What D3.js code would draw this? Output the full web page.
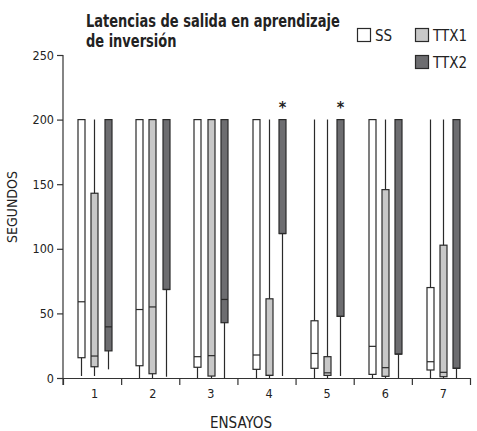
<html>
<head>
  <script src="https://d3js.org/d3.v7.min.js"></script>
  <style>
    body {
      margin: 0;
      background-color: #fff;
    }
    text {
      font-family: "Liberation Sans Narrow", "DejaVu Sans Condensed", sans-serif;
      fill: #222;
    }
    .axis .domain, .axis .tick line {
      stroke: #333;
      stroke-width: 1.2px;
    }
    .axis text {
      font-family: "Liberation Sans Narrow", "DejaVu Sans Condensed", sans-serif;
      font-size: 12.5px;
      fill: #222;
    }
    .title {
      font-size: 17px;
      font-weight: bold;
    }
    .box {
      stroke: #2a2a2a;
      stroke-width: 1.2px;
    }
    .whisker, .median {
      stroke: #2a2a2a;
      stroke-width: 1.2px;
    }
  </style>
</head>
<body>
  <svg width="477" height="431"></svg>

  <script>
    // ensayos and groups
    var categories = ["1", "2", "3", "4", "5", "6", "7"];
    var series = ["SS", "TTX1", "TTX2"];
    var colors = ["#ffffff", "#c8c8c8", "#6d6d70"];

    // box plot values per group (segundos)
    var ssLow    = [1.5, 0, 0, 0, 0, 0, 0];
    var ssQ1     = [15.7, 9.5, 8.3, 6.7, 7.5, 2.8, 6.2];
    var ssMed    = [59, 53, 16.5, 17.8, 19, 24.5, 12.6];
    var ssQ3     = [200, 200, 200, 200, 44.3, 200, 70];
    var ssHigh   = [200, 200, 200, 200, 200, 200, 200];

    var ttx1Low  = [1.5, 0, 0, 0, 0, 0, 0];
    var ttx1Q1   = [8.7, 3.3, 1.5, 2, 2, 1.3, 1];
    var ttx1Med  = [17, 55, 17.3, 2, 4, 8, 4.4];
    var ttx1Q3   = [143, 200, 200, 61.3, 16.5, 145.8, 102.8];
    var ttx1High = [200, 200, 200, 200, 200, 200, 200];

    var ttx2Low  = [6.7, 1, 0, 1.5, 1.5, 0, 0];
    var ttx2Q1   = [21, 68.5, 42.8, 111.8, 47.7, 18.5, 7.5];
    var ttx2Med  = [39.6, 68.5, 60.8, 111.8, 47.7, 18.5, 7.5];
    var ttx2Q3   = [200, 200, 200, 200, 200, 200, 200];
    var ttx2High = [200, 200, 200, 200, 200, 200, 200];

    // significance marks over TTX2
    var ttx2Star = [false, false, false, true, true, false, false];

    var yTicks = [0, 50, 100, 150, 200, 250];
    var titleLines = ["Latencias de salida en aprendizaje", "de inversión"];

    var stats = [
      {low: ssLow, q1: ssQ1, med: ssMed, q3: ssQ3, high: ssHigh},
      {low: ttx1Low, q1: ttx1Q1, med: ttx1Med, q3: ttx1Q3, high: ttx1High},
      {low: ttx2Low, q1: ttx2Q1, med: ttx2Med, q3: ttx2Q3, high: ttx2High}
    ];

    var svg = d3.select("svg"),
        plotLeft = 63, plotRight = 470, plotTop = 55, plotBottom = 378;

    var x = d3.scaleBand()
        .domain(categories)
        .range([plotLeft, plotRight]);

    var xs = d3.scalePoint()
        .domain(series)
        .range([-11, 15.5]);

    var y = d3.scaleLinear()
        .domain([0, 250])
        .range([plotBottom, plotTop]);

    var boxW = 7;

    // y axis
    svg.append("g")
        .attr("class", "axis axis--y")
        .attr("transform", "translate(" + plotLeft + ",0)")
        .call(d3.axisLeft(y).tickValues(yTicks).tickSize(6).tickSizeOuter(0).tickPadding(3))
      .select(".domain")
        .attr("d", "M0," + y(250) + "V" + (plotBottom + 7));

    // x axis: boundary ticks
    var xb = d3.scaleLinear().domain([0, categories.length]).range([plotLeft, plotRight]);
    svg.append("g")
        .attr("class", "axis axis--x")
        .attr("transform", "translate(0," + plotBottom + ")")
        .call(d3.axisBottom(xb).ticks(categories.length).tickSize(7).tickSizeOuter(0).tickFormat(""));

    // x axis: labels at band centres
    var xl = svg.append("g")
        .attr("class", "axis axis--xl")
        .attr("transform", "translate(2.5," + plotBottom + ")")
        .call(d3.axisBottom(x).tickSize(0).tickPadding(11));
    xl.select(".domain").remove();

    // boxes
    series.forEach(function(s, si) {
      var st = stats[si];
      var g = svg.append("g").attr("class", "series");
      categories.forEach(function(c, i) {
        var cx = Math.round(x(c) + x.bandwidth() / 2 + xs(s)) + 0.5;
        g.append("line")
            .attr("class", "whisker")
            .attr("x1", cx).attr("x2", cx)
            .attr("y1", y(st.high[i])).attr("y2", y(st.low[i]));
        g.append("rect")
            .attr("class", "box")
            .attr("x", cx - boxW / 2)
            .attr("width", boxW)
            .attr("y", y(st.q3[i]))
            .attr("height", y(st.q1[i]) - y(st.q3[i]))
            .attr("fill", colors[si]);
        g.append("line")
            .attr("class", "median")
            .attr("x1", cx - boxW / 2).attr("x2", cx + boxW / 2)
            .attr("y1", y(st.med[i])).attr("y2", y(st.med[i]));
        if (si === 2 && ttx2Star[i]) {
          g.append("text")
              .attr("x", cx)
              .attr("y", y(200) - 7)
              .attr("text-anchor", "middle")
              .style("font-size", "16px")
              .style("font-weight", "bold")
              .text("*");
        }
      });
    });

    // title, squeezed horizontally to look condensed
    var title = svg.append("text")
        .attr("class", "title");
    title.selectAll("tspan")
        .data(titleLines)
      .enter().append("tspan")
        .attr("x", 0)
        .attr("y", function(d, i) { return i * 20; })
        .text(function(d) { return d; });
    var tw = title.node().getComputedTextLength ? title.select("tspan").node().getComputedTextLength() : 254;
    title.attr("transform", "translate(86,27) scale(" + (254 / tw) + ",1)");

    // axis titles
    svg.append("text")
        .attr("transform", "translate(17,207) rotate(-90)")
        .attr("text-anchor", "middle")
        .style("font-size", "14px")
        .text("SEGUNDOS");

    svg.append("text")
        .attr("x", 241)
        .attr("y", 428)
        .attr("text-anchor", "middle")
        .style("font-size", "15px")
        .text("ENSAYOS");

    // legend
    var legendPos = [[357, 28], [415, 28], [415, 55]];
    series.forEach(function(s, si) {
      var p = legendPos[si];
      svg.append("rect")
          .attr("class", "box")
          .attr("x", p[0] + 0.5).attr("y", p[1] + 0.5)
          .attr("width", 13).attr("height", 13)
          .attr("fill", colors[si]);
      svg.append("text")
          .attr("x", p[0] + 18)
          .attr("y", p[1] + 13)
          .style("font-size", "15px")
          .text(s);
    });
  </script>
</body>
</html>
